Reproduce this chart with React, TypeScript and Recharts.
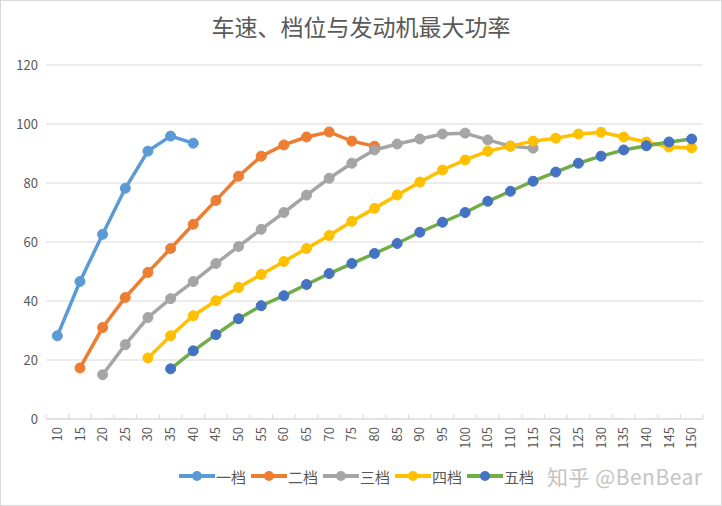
import { CartesianGrid, Legend, Line, LineChart, XAxis, YAxis } from "recharts";

const speeds = [10, 15, 20, 25, 30, 35, 40, 45, 50, 55, 60, 65, 70, 75, 80, 85, 90, 95, 100, 105, 110, 115, 120, 125, 130, 135, 140, 145, 150];

const gear1 = [28.2, 46.6, 62.6, 78.2, 90.8, 95.9, 93.5];
const gear2 = [17.3, 31, 41.2, 49.7, 57.8, 66, 74.1, 82.3, 89.1, 92.9, 95.6, 97.3, 94.2, 92.5];
const gear3 = [15, 25.2, 34.4, 40.8, 46.6, 52.7, 58.5, 64.3, 70, 75.9, 81.6, 86.7, 91.2, 93.2, 94.9, 96.6, 96.9, 94.6, 92.5, 91.8];
const gear4 = [20.7, 28.2, 35, 40.1, 44.6, 49, 53.4, 57.8, 62.2, 67, 71.4, 75.9, 80.3, 84.4, 87.8, 90.8, 92.5, 94.2, 95.2, 96.6, 97.2, 95.6, 93.9, 92.2, 91.9];
const gear5 = [17, 23.1, 28.6, 34, 38.4, 41.8, 45.6, 49.3, 52.7, 56.1, 59.5, 63.3, 66.7, 70, 73.8, 77.2, 80.6, 83.7, 86.7, 89.1, 91.2, 92.6, 93.9, 94.9];

// first speed of each gear
const gearStart = [10, 15, 20, 30, 35];
const gearNames = ["一档", "二档", "三档", "四档", "五档"];
const yTicks = [0, 20, 40, 60, 80, 100, 120];

const gears = [gear1, gear2, gear3, gear4, gear5];
const lineColors = ["#5B9BD5", "#ED7D31", "#A5A5A5", "#FFC000", "#70AD47"];
const dotColors = ["#5B9BD5", "#ED7D31", "#A5A5A5", "#FFC000", "#4472C4"];

const data = speeds.map((s) => {
  const row: Record<string, number | null> = { speed: s };
  gears.forEach((vals, g) => {
    const i = (s - gearStart[g]) / 5;
    row["g" + g] = i >= 0 && i < vals.length ? vals[i] : null;
  });
  return row;
});

const FONT = '"Noto Sans CJK SC", "Noto Sans", sans-serif';
const BAND = 657 / speeds.length;

function SpeedTick(props: any) {
  const { x, y, payload, index } = props;
  return (
    <g>
      <line x1={x - BAND / 2} x2={x - BAND / 2} y1={y - 13} y2={y - 8} stroke="#d9d9d9" />
      {index === speeds.length - 1 && (
        <line x1={x + BAND / 2} x2={x + BAND / 2} y1={y - 13} y2={y - 8} stroke="#d9d9d9" />
      )}
      <text
        x={x}
        y={y}
        transform={`rotate(-90, ${x}, ${y})`}
        textAnchor="end"
        dy="0.35em"
        fill="#595959"
        fontSize={13}
        fontFamily={FONT}
      >
        {payload.value}
      </text>
    </g>
  );
}

function GearLegend() {
  return (
    <div style={{ display: "flex", alignItems: "center", paddingLeft: 178, height: 30, fontFamily: FONT }}>
      {gearNames.map((name, g) => (
        <div key={name} style={{ display: "flex", alignItems: "center", marginRight: 5 }}>
          <svg width={36} height={14}>
            <line x1={0} x2={36} y1={7} y2={7} stroke={lineColors[g]} strokeWidth={4} />
            <circle cx={18} cy={7} r={5} fill={dotColors[g]} />
          </svg>
          <span style={{ fontSize: 15, color: "#595959", marginLeft: 1 }}>{name}</span>
        </div>
      ))}
      <span style={{ fontSize: 21, color: "#c4c4c4", marginLeft: 8, letterSpacing: 0.5 }}>知乎 @BenBear</span>
    </div>
  );
}

export default function App() {
  return (
    <div
      style={{
        position: "absolute",
        left: 0,
        top: 0,
        width: 722,
        height: 506,
        boxSizing: "border-box",
        border: "1px solid #d9d9d9",
        background: "#fff",
      }}
    >
      <div
        style={{
          position: "absolute",
          top: 8,
          width: "100%",
          textAlign: "center",
          fontFamily: FONT,
          fontSize: 23,
          color: "#595959",
        }}
      >
        车速、档位与发动机最大功率
      </div>
      <LineChart
        width={720}
        height={504}
        data={data}
        margin={{ top: 64, right: 18, bottom: 14, left: 0 }}
        style={{ fontFamily: FONT }}
      >
        <CartesianGrid vertical={false} stroke="#d9d9d9" />
        <XAxis
          dataKey="speed"
          interval={0}
          height={42}
          padding={{ left: BAND / 2, right: BAND / 2 }}
          tickLine={false}
          axisLine={{ stroke: "#d9d9d9" }}
          tick={<SpeedTick />}
        />
        <YAxis
          domain={[0, 120]}
          ticks={yTicks}
          width={45}
          axisLine={false}
          tickLine={false}
          tick={{ fill: "#595959", fontSize: 13 }}
        />
        <Legend verticalAlign="bottom" height={30} content={<GearLegend />} />
        {gearNames.map((name, g) => (
          <Line
            key={name}
            name={name}
            dataKey={"g" + g}
            stroke={lineColors[g]}
            strokeWidth={3.5}
            dot={{ r: 5, fill: dotColors[g], stroke: dotColors[g], strokeWidth: 1 }}
            activeDot={false}
            isAnimationActive={false}
          />
        ))}
      </LineChart>
    </div>
  );
}
